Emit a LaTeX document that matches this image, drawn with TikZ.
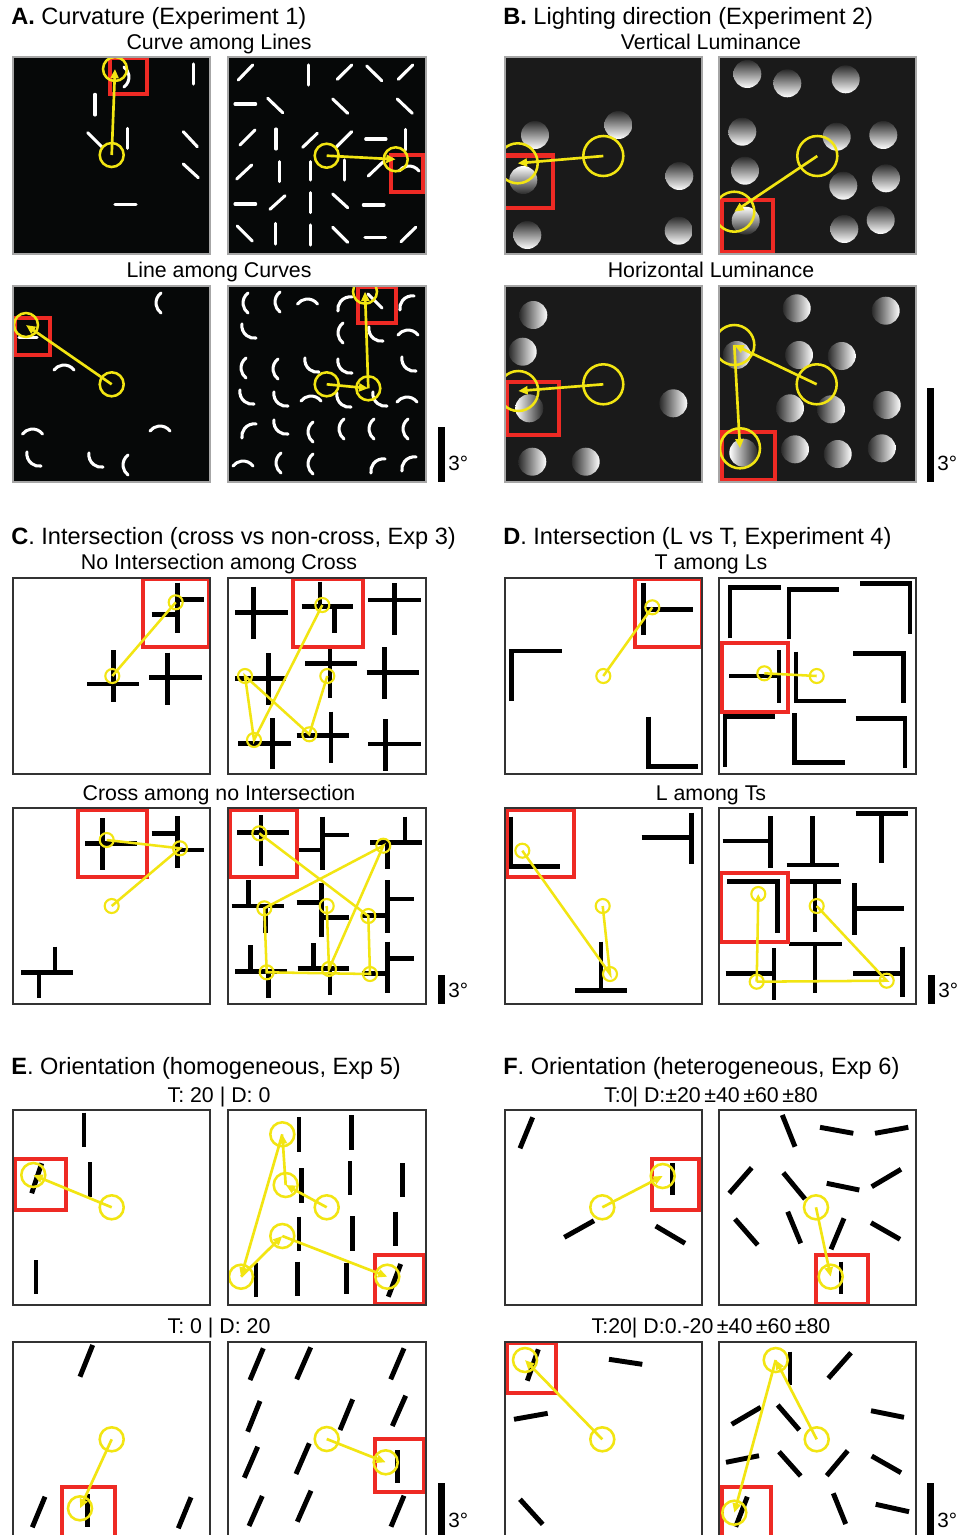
\documentclass[tikz,border=0pt]{standalone}
\usepackage{fontspec}
\setmainfont{Liberation Sans}
\usetikzlibrary{arrows.meta}
\definecolor{rd}{HTML}{EE2A24}
\definecolor{yl}{HTML}{F2E512}
\definecolor{bgA}{HTML}{060808}
\definecolor{bgB}{HTML}{1A1A1A}
\definecolor{sphd}{HTML}{2A2A2A}
\tikzset{
  wl/.style={white,line width=2.3pt,line cap=round},
  bk/.style={black,line width=3.7pt,line join=miter},
  redbox/.style={draw=rd,line width=3.2pt},
  yc/.style={circle,draw=yl,line width=1.9pt,inner sep=0pt,outer sep=0pt},
  ycS/.style={yc,line width=1.6pt,minimum size=10.5pt},
  ycL/.style={yc,minimum size=18pt},
  ycB/.style={yc,minimum size=30pt},
  ya/.style={yl,line width=2pt,-{Triangle[length=7pt,width=6pt]}},
  yn/.style={yl,line width=1.9pt},
  bdL/.style={draw=black!35,line width=0.8pt},
  bdD/.style={draw=black!80,line width=0.8pt},
  ttl/.style={inner sep=0pt,anchor=base west,font=\fontsize{17.7}{19}\selectfont},
  sub/.style={inner sep=0pt,anchor=base,font=\fontsize{16}{18}\selectfont},
  sbl/.style={inner sep=0pt,anchor=west,font=\fontsize{15.5}{17}\selectfont},
}
\newcommand\crv[3]{\draw[wl,shift={(#1,#2)},rotate=#3] (0,-10) arc[start angle=233, end angle=127, radius=12.5];}
\newcommand\sphV[2]{\shade[top color=sphd,bottom color=white] (#1,#2) circle (14);}
\newcommand\sphVt[2]{\shade[top color=white,bottom color=sphd] (#1,#2) circle (14);}
\newcommand\sphH[2]{\shade[left color=sphd,right color=white] (#1,#2) circle (14);}
\newcommand\sphHt[2]{\shade[left color=white,right color=sphd] (#1,#2) circle (14);}
\begin{document}
\begin{tikzpicture}[x=0.75pt,y=-0.75pt]
\useasboundingbox (0,0) rectangle (958,1535);
\fill[white] (0,0) rectangle (958,1535);

% ---------------- titles
\node[ttl] (tA) at (11,24) {\textbf{A.} Curvature (Experiment 1)};
\node[sub] (sA1) at (219,49) {Curve among Lines};
\node[sub] (sA2) at (219,277) {Line among Curves};
\node[ttl] (tB) at (503,24) {\textbf{B.} Lighting direction (Experiment 2)};
\node[sub] (sB1) at (711,49) {Vertical Luminance};
\node[sub] (sB2) at (711,277) {Horizontal Luminance};
\node[ttl] (tC) at (11,544) {\textbf{C}. Intersection (cross vs non-cross, Exp 3)};
\node[sub] (sC1) at (219,569) {No Intersection among Cross};
\node[sub] (sC2) at (219,800) {Cross among no Intersection};
\node[ttl] (tD) at (503,544) {\textbf{D}. Intersection (L vs T, Experiment 4)};
\node[sub] (sD1) at (711,569) {T among Ls};
\node[sub] (sD2) at (711,800) {L among Ts};
\node[ttl] (tE) at (11,1074) {\textbf{E}. Orientation (homogeneous, Exp 5)};
\node[sub] (sE1) at (219,1102) {T: 20 | D: 0};
\node[sub] (sE2) at (219,1333) {T: 0 | D: 20};
\node[ttl] (tF) at (503,1074) {\textbf{F}. Orientation (heterogeneous, Exp 6)};
\node[sub] (sF1) at (711,1102) {T:0| D:±20\,±40\,±60\,±80};
\node[sub] (sF2) at (711,1333) {T:20| D:0.-20\,±40\,±60\,±80};

% ---------------- scale bars
\fill (438,427) rectangle (445,482); \node[sbl] (lA) at (448,463) {3°};
\fill (927,388) rectangle (934,482); \node[sbl] (lB) at (937,463) {3°};
\fill (438,975) rectangle (445,1004); \node[sbl] (lC) at (448,990) {3°};
\fill (928,975) rectangle (935,1004); \node[sbl] (lD) at (938,990) {3°};
\fill (438,1483) rectangle (445,1535); \node[sbl] (lE) at (448,1520) {3°};
\fill (927,1483) rectangle (934,1535); \node[sbl] (lF) at (937,1520) {3°};

% ================= A1a
\fill[bgA] (13,57) rectangle ++(197,197);
\begin{scope}
\clip (13,57) rectangle ++(197,197);
\draw[wl] (193.3,64)--(193.3,84);
\draw[wl] (95,94.3)--(95,115);
\draw[wl] (87.7,132.7)--(101.7,146.7);
\draw[wl] (127.7,128.3)--(127.7,148.3);
\draw[wl] (183.3,131.7)--(197.3,146.7);
\draw[wl] (183.3,164)--(198.3,177.7);
\draw[wl] (115,204.3)--(136,204.3);
\crv{124}{77}{180}
\draw[redbox] (110,58.3) rectangle (146.7,94.3);
\node[ycL] (a1) at (111.7,155) {};
\node[ycL] (a2) at (115,69) {};
\draw[ya] (a1.center)--(a2.center);
\end{scope}
\draw[bdL] (13,57) rectangle ++(197,197);

% ================= A1b
\fill[bgA] (228,57) rectangle ++(198,197);
\begin{scope}
\clip (228,57) rectangle ++(198,197);
\draw[wl] (238.3,80)--(252.7,65);
\draw[wl] (308.3,65)--(308.3,85);
\draw[wl] (337.3,79.3)--(351.7,65);
\draw[wl] (366.7,66)--(381.7,80.7);
\draw[wl] (398.3,79.3)--(412.7,65);
\draw[wl] (235,104)--(255.7,104);
\draw[wl] (267.7,98.3)--(282.7,112.7);
\draw[wl] (332.7,99)--(347.7,113.3);
\draw[wl] (397.3,99)--(412.3,113.3);
\draw[wl] (240,145)--(255,130);
\draw[wl] (276,129)--(276,149);
\draw[wl] (302.7,147.3)--(317.3,133.3);
\draw[wl] (336.7,146.7)--(351.7,131.7);
\draw[wl] (365.7,139)--(386,139);
\draw[wl] (405.7,129.3)--(405.7,150);
\draw[wl] (236.7,179)--(251.7,165);
\draw[wl] (279.3,161.7)--(279.3,181.7);
\draw[wl] (310.7,161.7)--(310.7,180);
\draw[wl] (344.3,160)--(344.3,180);
\draw[wl] (368.3,176)--(383.3,161.7);
\crv{409}{171}{-90}
\draw[wl] (235,204)--(255.7,204);
\draw[wl] (270,209.3)--(285,195.7);
\draw[wl] (310.7,192.7)--(310.7,212.7);
\draw[wl] (332.7,194)--(347.7,207.7);
\draw[wl] (363.3,205)--(384,205);
\draw[wl] (237.3,226)--(252.3,241);
\draw[wl] (275.7,223.3)--(275.7,244);
\draw[wl] (310.7,225)--(310.7,245);
\draw[wl] (332.7,227.3)--(347.7,242.3);
\draw[wl] (365,237.3)--(385.7,237.3);
\draw[wl] (401,241.7)--(415.7,227.3);
\draw[redbox] (390.7,155) rectangle (423.3,191.7);
\node[ycL] (b1) at (326.7,155.7) {};
\node[ycL] (b2) at (395.7,159.3) {};
\draw[ya] (b1.center)--(b2.center);
\end{scope}
\draw[bdL] (228,57) rectangle ++(198,197);

% ================= A2a
\fill[bgA] (13,286) rectangle ++(197,196);
\begin{scope}
\clip (13,286) rectangle ++(197,196);
\crv{161}{303}{0}
\draw[wl] (19,337.3)--(37,337.3);
\crv{64}{370}{-90}
\crv{32.5}{434}{-90}
\crv{160}{431}{-90}
\crv{34}{459}{45}
\crv{96}{460}{45}
\crv{128}{465}{0}
\draw[redbox] (15,318.3) rectangle (50,355);
\node[ycL] (c1) at (111.7,384.3) {};
\node[ycL] (c2) at (26,325) {};
\draw[ya] (c1.center)--(c2.center);
\end{scope}
\draw[bdL] (13,286) rectangle ++(197,196);

% ================= A2b
\fill[bgA] (228,286) rectangle ++(198,196);
\begin{scope}
\clip (228,286) rectangle ++(198,196);
\crv{248}{303}{0} \crv{280}{302}{0} \crv{307.5}{304}{-90} \crv{345}{304}{-45}
\draw[wl] (368,294)--(382,308);
\crv{407}{303}{-45}
\crv{249}{331}{45} \crv{343}{333}{0} \crv{376}{334}{45} \crv{408}{335}{-90}
\crv{246}{368}{0} \crv{278}{369}{0} \crv{312}{365}{45} \crv{345}{366}{45} \crv{409}{364}{45}
\crv{247}{397}{45} \crv{281}{399}{45} \crv{311}{401}{-90} \crv{344}{400}{45} \crv{380}{399}{45} \crv{407}{402}{-90}
\crv{249}{431}{-45} \crv{281}{427}{45} \crv{313}{432}{0} \crv{344}{429}{0} \crv{374}{429}{0} \crv{408}{429}{0}
\crv{243}{466}{-90} \crv{281}{463}{0} \crv{313}{464}{0} \crv{378}{466}{-45} \crv{409}{464}{-45}
\draw[redbox] (358.3,286.7) rectangle (395.7,323.3);
\node[ycL] (d1) at (326.7,384.3) {};
\node[ycL] (d2) at (368.3,388.3) {};
\node[ycL] (d3) at (365,291.7) {};
\draw[ya] (d1.center)--(d2.center);
\draw[ya] (d2.center)--(d3.center);
\end{scope}
\draw[bdL] (228,286) rectangle ++(198,196);

% ================= B1a
\fill[bgB] (505,57) rectangle ++(197,197);
\begin{scope}
\clip (505,57) rectangle ++(197,197);
\sphV{535}{135} \sphV{618.3}{125} \sphV{679.3}{176} \sphV{527.3}{235} \sphV{678.7}{230.7}
\sphVt{523.3}{180}
\draw[redbox] (503,155.5) rectangle (553.3,208.3);
\node[ycB] (e1) at (603.3,156) {};
\node[ycB] (e2) at (517.7,163.3) {};
\draw[ya] (e1.center)--(e2.center);
\end{scope}
\draw[bdL] (505,57) rectangle ++(197,197);

% ================= B1b
\fill[bgB] (719,57) rectangle ++(197,197);
\begin{scope}
\clip (719,57) rectangle ++(197,197);
\sphV{747.3}{74} \sphV{787.3}{83.3} \sphV{845.7}{79.3} \sphV{742.3}{131.7} \sphV{836.7}{136.7}
\sphV{883.3}{135} \sphV{745}{170.7} \sphV{843.3}{185.7} \sphV{886}{178.3} \sphV{844.3}{229} \sphV{880.7}{220}
\sphVt{745.7}{220.7}
\draw[redbox] (721.7,200) rectangle (773.3,251.7);
\node[ycB] (f1) at (817.3,156) {};
\node[ycB] (f2) at (734.3,211.7) {};
\draw[ya] (f1.center)--(f2.center);
\end{scope}
\draw[bdL] (719,57) rectangle ++(197,197);

% ================= B2a
\fill[bgB] (505,286) rectangle ++(197,196);
\begin{scope}
\clip (505,286) rectangle ++(197,196);
\sphH{533.3}{315} \sphH{522.7}{351.7} \sphH{673.3}{403.3} \sphH{532.3}{461.7} \sphH{585.7}{461.7}
\sphHt{529.3}{408.3}
\draw[redbox] (506.7,381.7) rectangle (559,435);
\node[ycB] (g1) at (603.3,384.3) {};
\node[ycB] (g2) at (518.3,391) {};
\draw[ya] (g1.center)--(g2.center);
\end{scope}
\draw[bdL] (505,286) rectangle ++(197,196);

% ================= B2b
\fill[bgB] (719,286) rectangle ++(197,196);
\begin{scope}
\clip (719,286) rectangle ++(197,196);
\sphH{796.7}{308.3} \sphH{885.7}{310.7} \sphH{799}{355} \sphH{841.7}{356} \sphH{736.7}{355}
\sphH{790}{408.3} \sphH{831}{409.3} \sphH{886.7}{405} \sphH{795}{449.3} \sphH{837.7}{454} \sphH{881.7}{448.3}
\sphHt{743.3}{452.7}
\draw[redbox] (721.7,431.7) rectangle (775,480);
\node[ycB] (h1) at (816.7,384.3) {};
\node[ycB] (h2) at (734.3,345) {};
\node[ycB] (h3) at (740,448.3) {};
\draw[ya] (h1.center)--(h2.center);
\draw[ya] (h2.center)--(h3.center);
\end{scope}
\draw[bdL] (719,286) rectangle ++(197,196);

% ================= C1a
\begin{scope}
\clip (13,578) rectangle ++(197,196);
\draw[bk] (177.7,582.7)--(177.7,633.3); \draw[bk] (151.7,614.3)--(177.7,614.3); \draw[bk] (177.7,599.3)--(204,599.3);
\draw[bk] (87.3,684)--(139.3,684); \draw[bk] (113.3,650)--(113.3,701.7);
\draw[bk] (149,677.7)--(201.7,677.7); \draw[bk] (167.3,652.7)--(167.3,705);
\draw[redbox] (143.3,579.3) rectangle (209.3,646.7);
\node[ycS] (i1) at (112.3,676) {};
\node[ycS] (i2) at (175.7,602.3) {};
\draw[yn] (i1.center)--(i2.center);
\end{scope}
\draw[bdD] (13,578) rectangle ++(197,196);

% ================= C1b
\begin{scope}
\clip (228,578) rectangle ++(198,196);
\draw[bk] (235,612.7)--(288.3,612.7); \draw[bk] (253.3,586.7)--(253.3,639.3);
\draw[bk] (320,581.7)--(320,607.3); \draw[bk] (301.7,606.7)--(353.3,606.7); \draw[bk] (334.3,606.7)--(334.3,633.3);
\draw[bk] (368.3,600)--(420.7,600); \draw[bk] (394.3,583.3)--(394.3,635);
\draw[bk] (305,663.3)--(356.7,663.3); \draw[bk] (330,648.3)--(330,698.3);
\draw[bk] (235,678.3)--(286,678.3); \draw[bk] (268.3,653.3)--(268.3,705);
\draw[bk] (366.7,672.7)--(419,672.7); \draw[bk] (384.3,647.3)--(384.3,699.3);
\draw[bk] (238.3,743.3)--(291,743.3); \draw[bk] (272.7,718.3)--(272.7,769.3);
\draw[bk] (296.7,735.7)--(349,735.7); \draw[bk] (331,711.7)--(331,762.7);
\draw[bk] (368.3,744)--(420.7,744); \draw[bk] (385.7,719.3)--(385.7,770.7);
\draw[redbox] (293.3,579.3) rectangle (363.3,646.7);
\node[ycS] (j1) at (327.3,676) {};
\node[ycS] (j2) at (309.3,734.3) {};
\node[ycS] (j3) at (245,676) {};
\node[ycS] (j4) at (254,740) {};
\node[ycS] (j5) at (322.3,605) {};
\draw[yn] (j1.center)--(j2.center)--(j3.center)--(j4.center)--(j5.center);
\end{scope}
\draw[bdD] (228,578) rectangle ++(198,196);

% ================= C2a
\begin{scope}
\clip (13,808) rectangle ++(197,196);
\draw[bk] (102.7,818.3)--(102.7,870); \draw[bk] (85,843.3)--(136.7,843.3);
\draw[bk] (177.7,816)--(177.7,868.3); \draw[bk] (151.7,833.3)--(177.7,833.3); \draw[bk] (177.7,850)--(204,850);
\draw[bk] (55,946.7)--(55,972.3); \draw[bk] (21,972.3)--(73.3,972.3); \draw[bk] (39,972.3)--(39,998.3);
\draw[redbox] (78.3,810) rectangle (146.7,876.7);
\node[ycS] (k1) at (111.7,906) {};
\node[ycS] (k2) at (180,848.3) {};
\node[ycS] (k3) at (106.7,840) {};
\draw[yn] (k1.center)--(k2.center)--(k3.center);
\end{scope}
\draw[bdD] (13,808) rectangle ++(197,196);

% ================= C2b
\begin{scope}
\clip (228,808) rectangle ++(198,196);
\draw[bk] (261,815)--(261,866); \draw[bk] (237.3,832.3)--(289.3,832.3);
\draw[bk] (322.7,816.7)--(322.7,870); \draw[bk] (322.7,835)--(349.3,835); \draw[bk] (299.3,850)--(322.7,850);
\draw[bk] (405,816.7)--(405,842.7); \draw[bk] (370,842.7)--(421.7,842.7); \draw[bk] (387.3,842.7)--(387.3,869.3);
\draw[bk] (248.3,880)--(248.3,906); \draw[bk] (231.7,906)--(284,906); \draw[bk] (265.7,906)--(265.7,932.7);
\draw[bk] (321.7,883.3)--(321.7,936.7); \draw[bk] (296.7,902.7)--(321.7,902.7); \draw[bk] (321.7,917.3)--(349,917.3);
\draw[bk] (387.7,880)--(387.7,932.7); \draw[bk] (387.7,899)--(414.3,899); \draw[bk] (361.7,915.7)--(387.7,915.7);
\draw[bk] (250.7,945)--(250.7,971.7); \draw[bk] (235,971.7)--(286.7,971.7); \draw[bk] (268.3,971.7)--(268.3,998.3);
\draw[bk] (313.3,943.3)--(313.3,968.3); \draw[bk] (297.7,968.3)--(349.3,968.3); \draw[bk] (330,968.3)--(330,995);
\draw[bk] (387.7,941.7)--(387.7,993.3); \draw[bk] (387.7,958.3)--(414.3,958.3); \draw[bk] (361.7,973.3)--(387.7,973.3);
\draw[redbox] (230,810) rectangle (296.7,876.7);
\node[ycS] (l1) at (326.7,906) {};
\node[ycS] (l2) at (329,969) {};
\node[ycS] (l3) at (383.3,845.7) {};
\node[ycS] (l4) at (264.3,908.3) {};
\node[ycS] (l5) at (266.7,972.3) {};
\node[ycS] (l6) at (370,974) {};
\node[ycS] (l7) at (368.3,916) {};
\node[ycS] (l8) at (259.3,833.3) {};
\draw[yn] (l1.center)--(l2.center)--(l3.center)--(l4.center)--(l5.center)--(l6.center)--(l7.center)--(l8.center);
\end{scope}
\draw[bdD] (228,808) rectangle ++(198,196);

% ================= D1a
\begin{scope}
\clip (505,578) rectangle ++(197,196);
\draw[bk] (643.3,583.3)--(643.3,635); \draw[bk] (643.3,609.3)--(693.3,609.3);
\draw[bk] (511.7,701)--(511.7,651)--(561.7,651);
\draw[bk] (648.3,716.7)--(648.3,766.7)--(698.3,766.7);
\draw[redbox] (635,579.3) rectangle (701.7,646.7);
\node[ycS] (m1) at (603.3,676) {};
\node[ycS] (m2) at (652.3,607.3) {};
\draw[yn] (m1.center)--(m2.center);
\end{scope}
\draw[bdD] (505,578) rectangle ++(197,196);

% ================= D1b
\begin{scope}
\clip (719,578) rectangle ++(197,196);
\draw[bk] (730,638.3)--(730,587.3)--(780.7,587.3);
\draw[bk] (789,639.3)--(789,589.3)--(839,589.3);
\draw[bk] (860,583.3)--(910,583.3)--(910,634);
\draw[bk] (729.3,676)--(779,676); \draw[bk] (779,650)--(779,702.7);
\draw[bk] (796,651.7)--(796,701)--(845.7,701);
\draw[bk] (853.3,653.3)--(903.3,653.3)--(903.3,703.3);
\draw[bk] (725,766.7)--(725,716.7)--(775,716.7);
\draw[bk] (794.3,713.3)--(794.3,762.3)--(845,762.3);
\draw[bk] (855.7,718.3)--(905,718.3)--(905,768.3);
\draw[redbox] (721.7,642.7) rectangle (788.3,711.7);
\node[ycS] (n1) at (816.7,676) {};
\node[ycS] (n2) at (764.3,673.3) {};
\draw[yn] (n1.center)--(n2.center);
\end{scope}
\draw[bdD] (719,578) rectangle ++(197,196);

% ================= D2a
\begin{scope}
\clip (505,808) rectangle ++(197,196);
\draw[bk] (511,816.7)--(511,866.7)--(560,866.7);
\draw[bk] (641.7,837.3)--(691.7,837.3); \draw[bk] (691.7,812.7)--(691.7,864.3);
\draw[bk] (601,941.7)--(601,990.7); \draw[bk] (575,990.7)--(627.3,990.7);
\draw[redbox] (506.7,810) rectangle (574,876.7);
\node[ycS] (o1) at (602.7,906) {};
\node[ycS] (o2) at (610,974) {};
\node[ycS] (o3) at (522.3,850.7) {};
\draw[yn] (o1.center)--(o2.center)--(o3.center);
\end{scope}
\draw[bdD] (505,808) rectangle ++(197,196);

% ================= D2b
\begin{scope}
\clip (719,808) rectangle ++(197,196);
\draw[bk] (722.7,841)--(770.7,841); \draw[bk] (770.7,816)--(770.7,868.3);
\draw[bk] (812.7,816)--(812.7,865); \draw[bk] (786.7,865)--(839,865);
\draw[bk] (855.7,813.3)--(908.3,813.3); \draw[bk] (881.7,813.3)--(881.7,862.7);
\draw[bk] (727.3,881.7)--(777.7,881.7)--(777.7,932.7);
\draw[bk] (789,881.7)--(841,881.7); \draw[bk] (815,881.7)--(815,931.7);
\draw[bk] (854.3,883.3)--(854.3,935); \draw[bk] (854.3,908.3)--(904.3,908.3);
\draw[bk] (725.7,973.3)--(774,973.3); \draw[bk] (774,948.3)--(774,1000);
\draw[bk] (789,944)--(841.7,944); \draw[bk] (815,944)--(815,993.3);
\draw[bk] (853.3,973.3)--(902.3,973.3); \draw[bk] (902.3,946.7)--(902.3,996.7);
\draw[redbox] (721,872.7) rectangle (788.3,941.7);
\node[ycS] (p1) at (816.7,906) {};
\node[ycS] (p2) at (886.7,980.7) {};
\node[ycS] (p3) at (756.7,981.7) {};
\node[ycS] (p4) at (758.3,894) {};
\draw[yn] (p1.center)--(p2.center)--(p3.center);
\draw[yl,line width=1.9pt,-{Triangle[length=5pt,width=4.5pt]}] (p3.center)--(p4.center);
\end{scope}
\draw[bdD] (719,808) rectangle ++(197,196);

% ================= E1a
\begin{scope}
\clip (13,1110) rectangle ++(197,195);
\draw[bk] (84,1112.7)--(84,1146.7);
\draw[bk] (90,1162.3)--(90,1196.7);
\draw[bk] (36,1260)--(36,1294.3);
\draw[bk] (31.7,1193.3)--(41.7,1163.3);
\draw[redbox] (15,1159.3) rectangle (66,1210);
\node[ycL] (q1) at (111.7,1207.3) {};
\node[ycL] (q2) at (33.3,1175) {};
\draw[ya] (q1.center)--(q2.center);
\end{scope}
\draw[bdD] (13,1110) rectangle ++(197,195);

% ================= E1b
\begin{scope}
\clip (228,1110) rectangle ++(198,195);
\draw[bk] (299,1117.3)--(299,1152.3);
\draw[bk] (351.7,1115)--(351.7,1150);
\draw[bk] (301.7,1168.3)--(301.7,1202.7);
\draw[bk] (350,1161)--(350,1195);
\draw[bk] (402.3,1163.3)--(402.3,1197.3);
\draw[bk] (299,1216.7)--(299,1251);
\draw[bk] (352.3,1216)--(352.3,1250.7);
\draw[bk] (395.7,1211.7)--(395.7,1246);
\draw[bk] (256,1262.7)--(256,1296.7);
\draw[bk] (297.7,1261.7)--(297.7,1296);
\draw[bk] (346.7,1262.7)--(346.7,1294.3);
\draw[bk] (388.3,1296.7)--(400.7,1264);
\draw[redbox] (375,1255) rectangle (424,1304);
\node[ycL] (r1) at (326.7,1207.3) {};
\node[ycL] (r2) at (285.7,1185) {};
\node[ycL] (r3) at (282.3,1134.3) {};
\node[ycL] (r4) at (241,1276.7) {};
\node[ycL] (r5) at (282.3,1236) {};
\node[ycL] (r6) at (387.3,1276.7) {};
\draw[ya] (r1.center)--(r2.center);
\draw[ya] (r2.center)--(r3.center);
\draw[ya] (r3.center)--(r4.center);
\draw[ya] (r4.center)--(r5.center);
\draw[ya] (r5.center)--(r6.center);
\end{scope}
\draw[bdD] (228,1110) rectangle ++(198,195);

% ================= E2a
\begin{scope}
\clip (13,1342) rectangle ++(197,197);
\draw[bk] (80,1376.7)--(92.7,1345);
\draw[bk] (32.3,1527.3)--(45,1496.7);
\draw[bk] (178.3,1528.3)--(191,1497.3);
\draw[bk] (87.3,1494)--(87.3,1527);
\draw[redbox] (62.3,1486.7) rectangle (115,1541);
\node[ycL] (s1) at (111.7,1439.3) {};
\node[ycL] (s2) at (80,1508.3) {};
\draw[ya] (s1.center)--(s2.center);
\end{scope}
\draw[bdD] (13,1342) rectangle ++(197,197);

% ================= E2b
\begin{scope}
\clip (228,1342) rectangle ++(198,197);
\draw[bk] (250,1380)--(263.3,1348.3);
\draw[bk] (296.7,1379.3)--(310.7,1347.3);
\draw[bk] (390.7,1379.3)--(404,1348.3);
\draw[bk] (247.7,1431.7)--(260,1401);
\draw[bk] (340,1430)--(352.7,1399.3);
\draw[bk] (392.3,1426)--(405.7,1395.7);
\draw[bk] (244.3,1477.7)--(257.7,1446.7);
\draw[bk] (296,1474)--(309.3,1443.3);
\draw[bk] (249,1526)--(262.3,1496);
\draw[bk] (297.3,1521.7)--(311,1490.7);
\draw[bk] (391,1526.7)--(404,1495.7);
\draw[bk] (397.3,1450)--(397.3,1482.7);
\draw[redbox] (375,1439.3) rectangle (424,1491.7);
\node[ycL] (t1) at (326.7,1439) {};
\node[ycL] (t2) at (385.7,1462.3) {};
\draw[ya] (t1.center)--(t2.center);
\end{scope}
\draw[bdD] (228,1342) rectangle ++(198,197);

% ================= F1a
\begin{scope}
\clip (505,1110) rectangle ++(197,195);
\draw[bk] (520,1148.3)--(532.7,1117.3);
\draw[bk] (564.3,1237.3)--(594,1220.7);
\draw[bk] (655.7,1226)--(685,1243.3);
\draw[bk] (672.3,1163.3)--(672.3,1195);
\draw[redbox] (651.7,1159) rectangle (699,1210);
\node[ycL] (u1) at (602.3,1207.3) {};
\node[ycL] (u2) at (662.7,1176) {};
\draw[ya] (u1.center)--(u2.center);
\end{scope}
\draw[bdD] (505,1110) rectangle ++(197,195);

% ================= F1b
\begin{scope}
\clip (719,1110) rectangle ++(197,195);
\draw[bk] (782.3,1115)--(795,1146.7);
\draw[bk] (820,1127.3)--(853.3,1133.3);
\draw[bk] (875,1133.3)--(908.3,1127.3);
\draw[bk] (729.3,1193.3)--(751.7,1167.7);
\draw[bk] (783.3,1172.7)--(805,1199);
\draw[bk] (826.7,1183.3)--(859.3,1190);
\draw[bk] (871.7,1186.7)--(901,1169.3);
\draw[bk] (735,1219)--(757.7,1245);
\draw[bk] (787.7,1211.7)--(800.7,1243.3);
\draw[bk] (831,1249.3)--(844,1218.3);
\draw[bk] (871,1222.7)--(900,1239.3);
\draw[bk] (841,1261.7)--(841,1294);
\draw[redbox] (815.7,1255) rectangle (867.7,1304);
\node[ycL] (v1) at (816,1207.3) {};
\node[ycL] (v2) at (830.7,1276.7) {};
\draw[ya] (v1.center)--(v2.center);
\end{scope}
\draw[bdD] (719,1110) rectangle ++(197,195);

% ================= F2a
\begin{scope}
\clip (505,1342) rectangle ++(197,197);
\draw[bk] (527.3,1380.7)--(538.3,1349.3);
\draw[bk] (609,1359.3)--(642.3,1364.3);
\draw[bk] (514,1419.3)--(547.7,1413.3);
\draw[bk] (520,1499.3)--(542.7,1524.3);
\draw[redbox] (506.7,1343.3) rectangle (556,1393.3);
\node[ycL] (w1) at (602.3,1439.3) {};
\node[ycL] (w2) at (525,1360) {};
\draw[ya] (w1.center)--(w2.center);
\end{scope}
\draw[bdD] (505,1342) rectangle ++(197,197);

% ================= F2b
\begin{scope}
\clip (719,1342) rectangle ++(197,197);
\draw[bk] (790,1351.7)--(790,1385);
\draw[bk] (828.3,1378.3)--(851,1352.7);
\draw[bk] (731.7,1424.3)--(760.7,1407.3);
\draw[bk] (777.7,1405)--(799.3,1430);
\draw[bk] (871,1410.7)--(904,1417.3);
\draw[bk] (726,1462.3)--(759,1455.7);
\draw[bk] (779,1451.7)--(800.7,1476);
\draw[bk] (826.7,1475.7)--(847.7,1450.7);
\draw[bk] (871.7,1456)--(901,1472.7);
\draw[bk] (833.3,1493.3)--(845.7,1524);
\draw[bk] (875.7,1504.3)--(909,1511.7);
\draw[bk] (735.7,1526.7)--(747.3,1496.7);
\draw[redbox] (721.7,1486.7) rectangle (771,1541);
\node[ycL] (x1) at (816.7,1439.3) {};
\node[ycL] (x2) at (775.7,1360) {};
\node[ycL] (x3) at (734.3,1512.7) {};
\draw[ya] (x1.center)--(x2.center);
\draw[ya] (x2.center)--(x3.center);
\end{scope}
\draw[bdD] (719,1342) rectangle ++(197,197);
\end{tikzpicture}
\end{document}
